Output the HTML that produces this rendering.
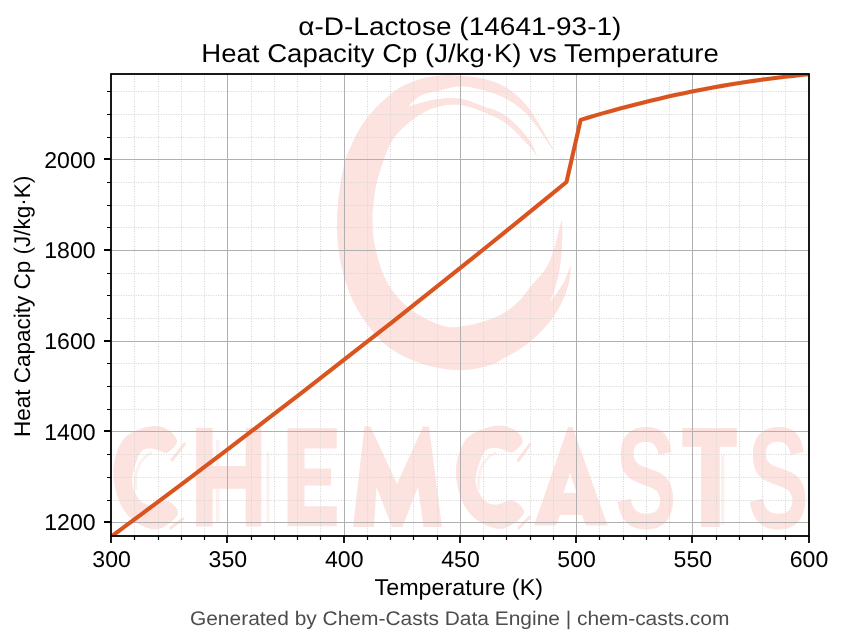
<!DOCTYPE html>
<html><head><meta charset="utf-8"><style>html,body{margin:0;padding:0;background:#fff;width:843px;height:644px;overflow:hidden}svg{display:block;will-change:transform;text-rendering:geometricPrecision}</style></head>
<body><svg width="843" height="644" viewBox="0 0 843 644" style="font-family:'Liberation Sans',sans-serif">
<rect width="843" height="644" fill="#fff"/>
<path d="M552.9,148 C548.8,141.2 535.9,117.2 528.0,107.0 C520.1,96.8 513.0,91.8 505.4,87.0 C497.8,82.2 490.2,80.4 482.6,78.5 C475.0,76.6 466.4,76.2 460.0,75.7 C453.6,75.2 450.2,74.8 444.0,75.2 C437.8,75.6 429.8,76.3 422.7,78.2 C415.6,80.1 407.5,83.4 401.4,86.7 C395.3,90.0 390.9,93.8 386.0,98.0 C381.1,102.2 376.3,107.0 372.0,112.0 C367.7,117.0 363.5,122.3 360.0,128.0 C356.5,133.7 353.5,140.3 351.0,146.0 C348.5,151.7 346.7,154.7 344.8,162.0 C342.9,169.3 340.8,180.0 339.5,190.0 C338.2,200.0 337.0,212.0 336.9,222.0 C336.8,232.0 337.3,240.2 338.6,249.8 C339.9,259.4 341.7,269.7 344.8,279.6 C347.9,289.5 351.5,299.4 357.3,309.4 C363.1,319.3 372.2,331.6 379.6,339.3 C387.1,347.0 393.3,350.8 402.0,355.4 C410.7,359.9 421.9,364.1 431.8,366.6 C441.7,369.1 451.9,370.5 461.6,370.3 C471.3,370.1 482.7,367.4 490.0,365.3 C497.3,363.2 500.3,360.4 505.5,357.6 C510.7,354.8 515.8,351.9 521.0,348.3 C526.2,344.7 531.4,340.8 536.6,335.9 C541.8,331.0 547.7,324.8 552.1,318.8 C556.5,312.9 560.0,306.4 562.9,300.2 C565.8,294.0 567.9,287.6 569.2,281.7 C570.6,275.8 570.7,267.5 571.0,264.6 L564.1,281.7 L555.6,295.3 L549.6,302 C550.3,300.3 552.3,296.7 553.9,291.9 C555.5,287.1 557.7,279.5 559.0,273.0 C560.3,266.5 561.0,259.9 561.6,252.7 C562.2,245.5 562.4,235.6 562.4,230.0 C562.4,224.4 561.7,221.2 561.6,219.4 C560.3,224.4 556.3,241.4 553.9,249.2 C551.5,257.0 549.3,261.8 547.0,266.3 C544.7,270.8 542.8,272.6 540.0,276.0 C537.2,279.4 533.2,283.2 530.0,287.0 C526.8,290.8 525.1,294.8 521.0,299.0 C516.9,303.2 511.5,308.3 505.5,312.0 C499.5,315.7 491.8,318.7 485.0,321.0 C478.2,323.3 471.3,324.8 465.0,325.8 C458.7,326.8 453.8,328.1 447.0,326.8 C440.2,325.5 431.8,322.2 424.3,318.1 C416.8,314.0 408.4,308.4 402.0,302.0 C395.6,295.6 390.2,288.3 385.8,279.6 C381.4,270.9 378.0,259.4 375.8,249.8 C373.6,240.2 372.6,232.0 372.5,222.0 C372.4,212.0 373.4,200.5 375.3,190.0 C377.2,179.5 380.9,167.8 384.1,159.0 C387.4,150.2 389.6,143.9 394.8,137.0 C400.0,130.1 408.1,122.7 415.2,117.7 C422.3,112.7 430.1,109.1 437.6,107.0 C445.1,104.9 452.5,104.2 460.0,105.0 C467.5,105.8 475.0,108.8 482.6,111.8 C490.2,114.8 497.8,117.5 505.4,123.0 C513.0,128.5 522.6,139.3 528.0,145.0 C533.4,150.7 536.1,155.2 537.7,157.3 C536.1,154.1 533.4,145.0 528.0,138.0 C522.6,131.0 513.0,120.8 505.4,115.5 C497.8,110.2 490.2,108.8 482.6,106.0 C475.0,103.2 467.5,99.7 460.0,98.5 C452.5,97.3 444.3,98.2 437.6,99.0 C430.9,99.8 424.9,101.8 420.0,103.0 C415.1,104.2 410.2,105.9 408.3,106.5 C410.2,104.8 415.1,98.6 420.0,96.0 C424.9,93.4 430.9,92.6 437.6,91.0 C444.3,89.4 452.5,86.7 460.0,86.5 C467.5,86.3 475.0,88.0 482.6,90.0 C490.2,92.0 497.8,94.2 505.4,98.5 C513.0,102.8 520.1,107.0 528.0,115.5 C535.9,124.0 548.8,144.0 552.9,149.7Z" fill="#fde3df"/>
<text transform="translate(614.93,527.55) scale(0.6401,1)" font-size="144.51" font-weight="bold" fill="#fde3df">S</text>
<text transform="translate(747.33,527.55) scale(0.6401,1)" font-size="144.51" font-weight="bold" fill="#fde3df">S</text>
<path d="M522.8,441.0 C522.8,437.2 518.0,431.8 513.5,429.3 C509.0,426.8 502.9,424.8 495.6,425.8 C488.4,426.8 476.2,430.6 470.0,435.5 C463.8,440.4 460.8,447.9 458.5,455.0 C456.2,462.1 455.4,469.9 456.2,478.0 C457.0,486.1 459.9,496.7 463.3,503.7 C466.7,510.7 471.2,515.7 476.6,519.8 C482.0,523.9 489.8,527.4 495.5,528.4 C501.2,529.4 505.9,528.2 510.7,525.5 C515.5,522.8 523.7,516.5 524.0,512.3 C524.3,508.1 517.4,501.7 512.6,500.4 C507.9,499.1 500.4,504.9 495.5,504.7 C490.6,504.5 486.5,503.1 483.2,499.0 C479.9,494.9 475.5,487.7 475.6,480.0 C475.7,472.3 480.7,457.9 484.0,452.6 C487.3,447.3 491.9,448.3 495.6,448.0 C499.4,447.7 503.5,450.4 506.5,451.0 C509.5,451.6 510.8,453.5 513.5,451.8 C516.2,450.1 522.8,444.8 522.8,441.0Z" fill="#fde3df"/>
<path d="M177.0,441.5 C177.0,437.8 172.4,432.3 168.1,429.8 C163.8,427.3 158.0,425.3 151.1,426.3 C144.2,427.3 132.7,431.1 126.8,436.0 C120.9,440.9 118.1,448.4 115.9,455.5 C113.7,462.6 112.9,470.4 113.7,478.5 C114.5,486.6 117.2,497.2 120.4,504.2 C123.7,511.2 128.0,516.2 133.1,520.3 C138.2,524.4 145.6,527.9 151.0,528.9 C156.4,529.9 161.0,528.7 165.5,526.0 C170.0,523.3 177.8,517.0 178.1,512.8 C178.4,508.6 171.8,502.2 167.3,500.9 C162.8,499.6 155.7,505.4 151.0,505.2 C146.4,505.0 142.5,503.6 139.3,499.5 C136.2,495.4 132.0,488.2 132.1,480.5 C132.3,472.8 136.9,458.4 140.1,453.1 C143.3,447.8 147.6,448.8 151.1,448.5 C154.7,448.2 158.7,450.9 161.5,451.5 C164.3,452.1 165.6,454.0 168.1,452.3 C170.7,450.6 177.0,445.2 177.0,441.5Z" fill="#fde3df"/>
<path d="M216,440h3.5v82h-3.5zM266.5,452h3v70h-3z" fill="#fdf0ee"/>
<path d="M196.1,427.8 L212.6,427.8 L212.6,466 L245.7,466 L245.7,427.8 L261.3,427.8 L261.3,526.4 L245.7,526.4 L245.7,488.7 L212.6,488.7 L212.6,526.4 L196.1,526.4Z" fill="#fde3df"/>
<path d="M287.5,428.3 L336.8,428.3 L336.8,448.5 L304.5,448.5 L304.5,468.4 L331,468.4 L331,485.5 L304.5,485.5 L304.5,506.3 L336.8,506.3 L336.8,526.3 L287.5,526.3Z" fill="#fde3df"/>
<path d="M682.3,428 L736.8,428 L736.8,446.8 L719.8,446.8 L719.8,527 L701,527 L701,446.8 L682.3,446.8Z" fill="#fde3df"/>
<path d="M721,455h3.5v70h-3.5z" fill="#fdf0ee"/>
<path d="M518.2,460.5L529.7,444.6M519,527.8L529.7,517M172,460L184.5,444M170.6,528L182.8,519" stroke="#fde3df" stroke-width="3" stroke-linecap="round" fill="none"/>
<path d="M479,490Q476,462 496,452.5M136,490Q133,462 152,452.5" stroke="#fdf0ee" stroke-width="3" fill="none"/>
<path d="M353,527 L364.5,426.5 L370.5,426.5 L397,484 L423,426.5 L429,426.5 L442,527 L423.5,527 L418,487 L402.5,527 L392,527 L376.5,487 L374,527Z" fill="#fde3df"/>
<path d="M534,525.5 L568,427 L572.5,427 L607.6,525.5 L586,525.5 L582,515 L560,515 L556,525.5Z M570,473 L576.5,493 L563.5,493Z" fill="#fde3df" fill-rule="evenodd"/>
<path d="M134.5,74.0V536.0M158.5,74.0V536.0M181.5,74.0V536.0M204.5,74.0V536.0M251.5,74.0V536.0M274.5,74.0V536.0M297.5,74.0V536.0M320.5,74.0V536.0M367.5,74.0V536.0M390.5,74.0V536.0M413.5,74.0V536.0M437.5,74.0V536.0M483.5,74.0V536.0M506.5,74.0V536.0M530.5,74.0V536.0M553.5,74.0V536.0M599.5,74.0V536.0M623.5,74.0V536.0M646.5,74.0V536.0M669.5,74.0V536.0M716.5,74.0V536.0M739.5,74.0V536.0M762.5,74.0V536.0M785.5,74.0V536.0M111.25,500.5H808.75M111.25,477.5H808.75M111.25,454.5H808.75M111.25,409.5H808.75M111.25,386.5H808.75M111.25,363.5H808.75M111.25,318.5H808.75M111.25,295.5H808.75M111.25,273.5H808.75M111.25,227.5H808.75M111.25,205.5H808.75M111.25,182.5H808.75M111.25,137.5H808.75M111.25,114.5H808.75M111.25,91.5H808.75" stroke="#d6d6d6" stroke-width="1" stroke-dasharray="1.1,1.4" stroke-dashoffset="0.5" fill="none"/>
<path d="M227.5,74.0V536.0M344.5,74.0V536.0M460.5,74.0V536.0M576.5,74.0V536.0M692.5,74.0V536.0M111.25,522.5H808.75M111.25,431.5H808.75M111.25,341.5H808.75M111.25,250.5H808.75M111.25,159.5H808.75" stroke="#b0b0b0" stroke-width="1" fill="none"/>
<clipPath id="ax"><rect x="111.25" y="74.0" width="697.5" height="462.0"/></clipPath>
<path d="M111.25,536.58 L126.95,524.96 L142.65,513.30 L158.34,501.59 L174.04,489.84 L189.74,478.05 L205.44,466.21 L221.13,454.33 L236.83,442.41 L252.53,430.44 L268.23,418.43 L283.93,406.38 L299.62,394.28 L315.32,382.14 L331.02,369.96 L346.72,357.73 L362.41,345.46 L378.11,333.15 L393.81,320.79 L409.51,308.39 L425.21,295.95 L440.90,283.46 L456.60,270.93 L472.30,258.36 L488.00,245.74 L503.69,233.08 L519.39,220.38 L535.09,207.63 L550.79,194.84 L566.49,182.01 L580.67,119.85 L588.53,117.47 L596.40,115.15 L604.26,112.88 L612.13,110.67 L619.99,108.53 L627.86,106.43 L635.72,104.40 L643.59,102.43 L651.45,100.51 L659.32,98.65 L667.18,96.85 L675.05,95.10 L682.91,93.42 L690.78,91.79 L698.64,90.22 L706.51,88.71 L714.37,87.25 L722.24,85.86 L730.10,84.52 L737.97,83.24 L745.83,82.01 L753.70,80.85 L761.56,79.74 L769.43,78.69 L777.29,77.70 L785.16,76.76 L793.02,75.89 L800.89,75.07 L808.75,74.31" stroke="#d9541e" stroke-width="4.1" fill="none" stroke-linejoin="round" clip-path="url(#ax)"/>
<rect x="111" y="74" width="698" height="462" fill="none" stroke="#000" stroke-width="1.8"/>
<path d="M111,536v7M227.0,536v7M344.0,536v7M460.0,536v7M576.0,536v7M692.0,536v7M809,536v7M111,522.0h-7M111,431.0h-7M111,341.0h-7M111,250.0h-7M111,159.0h-7" stroke="#000" stroke-width="1.8"/>
<path d="M134.5,536v4M158.5,536v4M181.5,536v4M204.5,536v4M251.5,536v4M274.5,536v4M297.5,536v4M320.5,536v4M367.5,536v4M390.5,536v4M413.5,536v4M437.5,536v4M483.5,536v4M506.5,536v4M530.5,536v4M553.5,536v4M599.5,536v4M623.5,536v4M646.5,536v4M669.5,536v4M716.5,536v4M739.5,536v4M762.5,536v4M785.5,536v4M111,500.5h-4M111,477.5h-4M111,454.5h-4M111,409.5h-4M111,386.5h-4M111,363.5h-4M111,318.5h-4M111,295.5h-4M111,273.5h-4M111,227.5h-4M111,205.5h-4M111,182.5h-4M111,137.5h-4M111,114.5h-4M111,91.5h-4" stroke="#000" stroke-width="1.2"/>
<text transform="translate(44.25,529.72) scale(1.0120,1)" font-size="22.82">1200</text>
<text transform="translate(44.25,439.67) scale(1.0120,1)" font-size="22.82">1400</text>
<text transform="translate(44.25,348.67) scale(1.0120,1)" font-size="22.82">1600</text>
<text transform="translate(44.25,257.72) scale(1.0120,1)" font-size="22.82">1800</text>
<text transform="translate(44.25,167.72) scale(1.0120,1)" font-size="22.82">2000</text>
<text transform="translate(92.33,567.07) scale(1.0120,1)" font-size="22.82">300</text>
<text transform="translate(208.58,567.07) scale(1.0120,1)" font-size="22.82">350</text>
<text transform="translate(325.00,567.07) scale(1.0120,1)" font-size="22.82">400</text>
<text transform="translate(441.25,567.07) scale(1.0120,1)" font-size="22.82">450</text>
<text transform="translate(557.33,567.07) scale(1.0120,1)" font-size="22.82">500</text>
<text transform="translate(673.58,567.07) scale(1.0120,1)" font-size="22.82">550</text>
<text transform="translate(789.71,567.07) scale(1.0120,1)" font-size="22.82">600</text>
<text transform="translate(298.18,34.60) scale(1.1057,1)" font-size="25.36" fill="#000">α-D-Lactose (14641-93-1)</text>
<text transform="translate(201.29,61.80) scale(1.0754,1)" font-size="25.65" fill="#000">Heat Capacity Cp (J/kg·K) vs Temperature</text>
<text transform="translate(374.53,594.75) scale(1.0184,1)" font-size="22.90" fill="#000">Temperature (K)</text>
<text transform="translate(189.95,624.60) scale(1.0632,1)" font-size="19.71" fill="#4d4d4d">Generated by Chem-Casts Data Engine | chem-casts.com</text>
<text transform="translate(29.8,437.10) rotate(-90) scale(0.9957,1)" font-size="22.61">Heat Capacity Cp (J/kg·K)</text>
</svg></body></html>
